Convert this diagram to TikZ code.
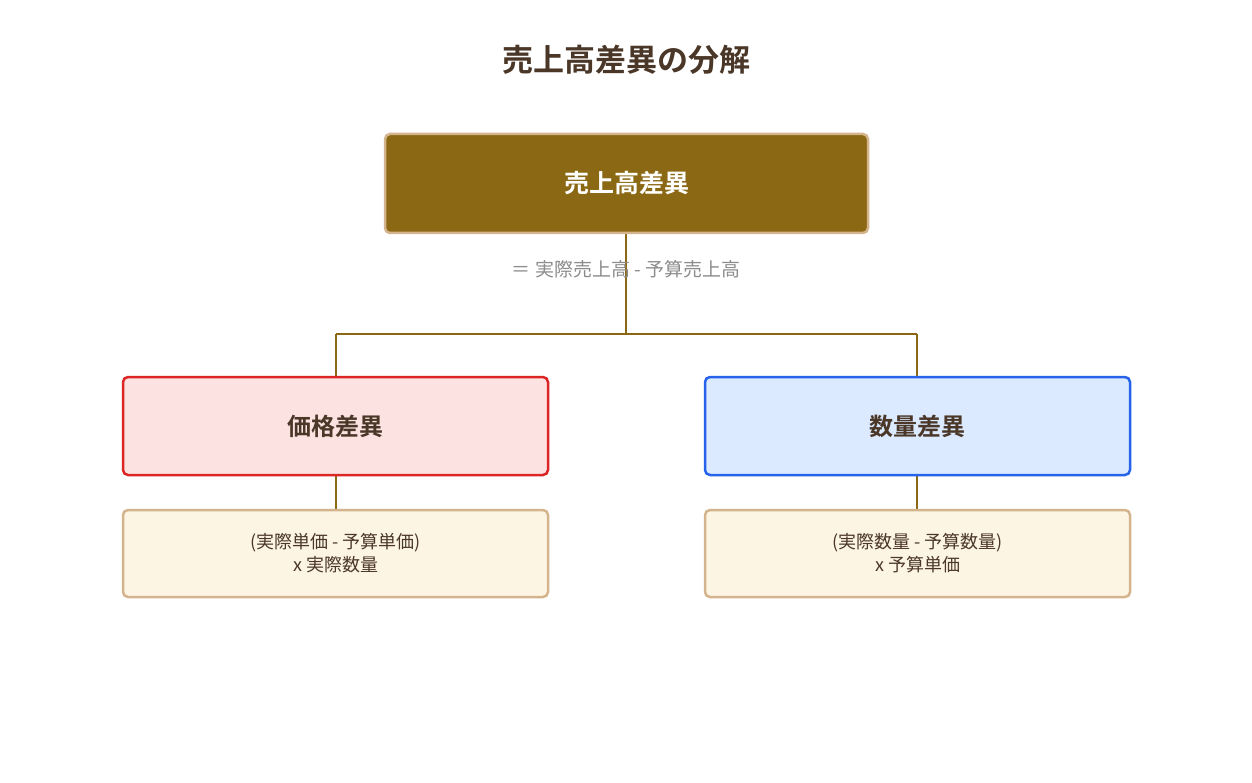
\documentclass[tikz,border=0pt]{standalone}
\usepackage{fontspec}
\setmainfont{Noto Sans CJK JP}
\newfontfamily\jpb{Noto Sans CJK JP Bold}
\definecolor{brownbox}{HTML}{8B6914}
\definecolor{tan}{HTML}{D4B48C}
\definecolor{dark}{HTML}{4A3728}
\definecolor{redb}{HTML}{DC2626}
\definecolor{redf}{HTML}{FDE2E2}
\definecolor{blueb}{HTML}{2563EB}
\definecolor{bluef}{HTML}{DBEAFE}
\definecolor{cream}{HTML}{FDF5E4}
\begin{document}
\begin{tikzpicture}[x=1pt,y=-1pt,
  box/.style={rounded corners=5pt,line width=2.5pt,inner sep=0pt},
  conn/.style={draw=brownbox,line width=2.5pt}]
\useasboundingbox[fill=white] (0,0) rectangle (1252,783);
\node[text=dark,font=\jpb\fontsize{31}{36}\selectfont] (title) at (626,60) {売上高差異の分解};
\draw[conn] (626,233) -- (626,334) coordinate (j) (336,334) -- (917,334);
\draw[conn] (336,334) -- (336,377);
\draw[conn] (917,334) -- (917,377);
\draw[conn] (336,475) -- (336,510);
\draw[conn] (917,475) -- (917,510);
\node[box,draw=tan,fill=brownbox,minimum width=483pt,minimum height=99pt,text=white,font=\jpb\fontsize{25}{30}\selectfont] (top) at (626.5,183.5) {売上高差異};
\node[text=gray!90,font=\fontsize{19}{22}\selectfont] (eq) at (626,269) {＝ 実際売上高 - 予算売上高};
\node[box,draw=redb,fill=redf,minimum width=425pt,minimum height=98pt,text=dark,font=\jpb\fontsize{24}{28}\selectfont] (p) at (335.5,426) {価格差異};
\node[box,draw=blueb,fill=bluef,minimum width=425pt,minimum height=98pt,text=dark,font=\jpb\fontsize{24}{28}\selectfont] (q) at (917.5,426) {数量差異};
\node[box,draw=tan,fill=cream,minimum width=425pt,minimum height=87pt,text=dark,align=center,font=\fontsize{18}{23}\selectfont] (pd) at (335.5,553.5) {(実際単価 - 予算単価)\\x 実際数量};
\node[box,draw=tan,fill=cream,minimum width=425pt,minimum height=87pt,text=dark,align=center,font=\fontsize{18}{23}\selectfont] (qd) at (917.5,553.5) {(実際数量 - 予算数量)\\x 予算単価};
\end{tikzpicture}
\end{document}
